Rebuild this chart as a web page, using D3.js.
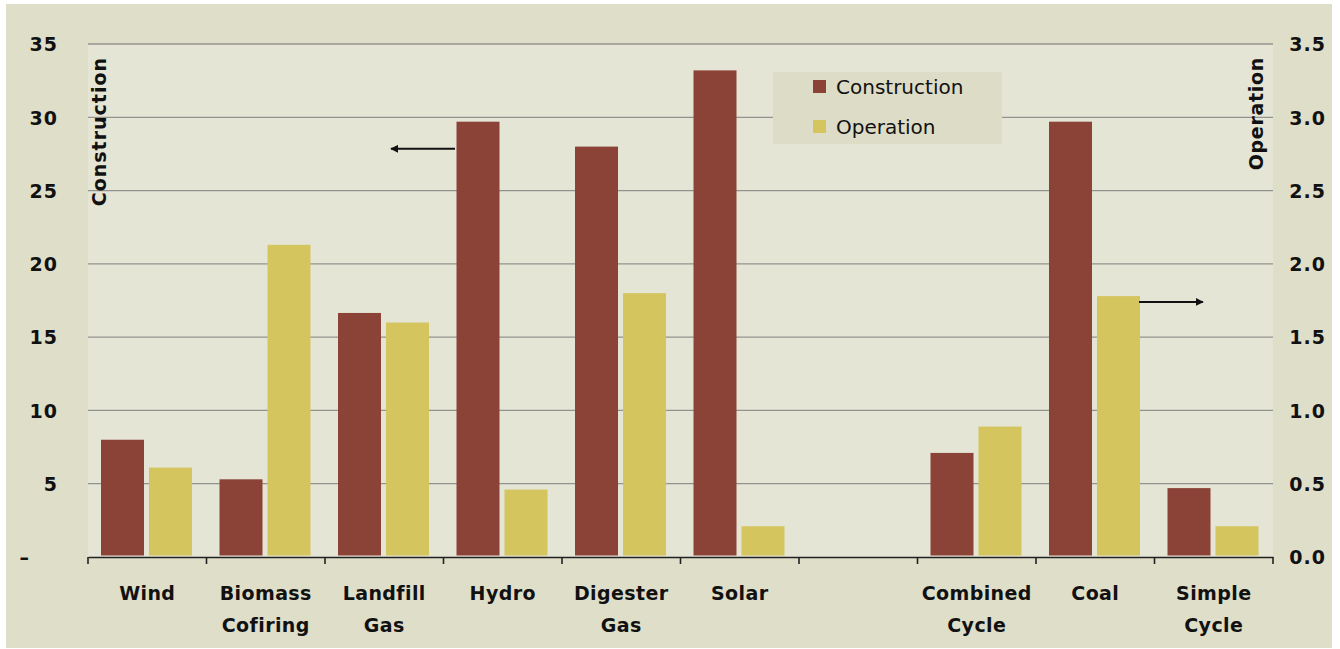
<!DOCTYPE html>
<html>
<head>
<meta charset="utf-8">
<script src="https://cdn.jsdelivr.net/npm/d3@7"></script>
<style>
  html, body { margin: 0; padding: 0; background: #ffffff; }
  svg { display: block; }
  text { font-family: "DejaVu Sans", sans-serif; fill: #111; }
</style>
</head>
<body>
<svg id="chart" width="1340" height="649"></svg>
<script>
// ---- data ----
const categories = ["Wind", "Biomass\nCofiring", "Landfill\nGas", "Hydro", "Digester\nGas", "Solar", " ", "Combined\nCycle", "Coal", "Simple\nCycle"];
const construction = [8.0, 5.3, 16.65, 29.7, 28.0, 33.2, null, 7.1, 29.7, 4.7];
const operation = [0.61, 2.13, 1.60, 0.46, 1.80, 0.21, null, 0.89, 1.78, 0.21];
const seriesNames = ["Construction", "Operation"];
const leftTicks = [0, 5, 10, 15, 20, 25, 30, 35];
const rightTicks = [0, 0.5, 1.0, 1.5, 2.0, 2.5, 3.0, 3.5];
const colors = { Construction: "#8b4337", Operation: "#d4c55f" };

// ---- layout ----
const svg = d3.select("#chart");
const plot = { left: 88, right: 1273, top: 44, bottom: 557 };

svg.append("rect").attr("x", 6).attr("y", 4).attr("width", 1326).attr("height", 644).attr("fill", "#dfdec8");
svg.append("rect").attr("x", plot.left).attr("y", plot.top)
  .attr("width", plot.right - plot.left).attr("height", plot.bottom - plot.top).attr("fill", "#e5e5d6");

const x = d3.scaleBand().domain(categories).range([plot.left, plot.right]).padding(0);
const xs = d3.scaleBand().domain(seriesNames).range([13, x.bandwidth() - 14.5]).paddingInner(5 / 48);
const yL = d3.scaleLinear().domain([0, 35]).range([plot.bottom, plot.top]);
const yR = d3.scaleLinear().domain([0, 3.5]).range([plot.bottom, plot.top]);

// gridlines
svg.append("g").selectAll("line").data(leftTicks.filter(d => d > 0)).join("line")
  .attr("x1", plot.left).attr("x2", plot.right)
  .attr("y1", d => yL(d)).attr("y2", d => yL(d))
  .attr("stroke", "#93938e").attr("stroke-width", 1.3);

// bars
const rows = categories.map((c, i) => ({ c, Construction: construction[i], Operation: operation[i] }));
const g = svg.append("g");
g.selectAll("rect.con").data(rows.filter(r => r.Construction != null)).join("rect")
  .attr("x", d => x(d.c) + xs("Construction")).attr("width", xs.bandwidth())
  .attr("y", d => yL(d.Construction)).attr("height", d => yL(0) - 1.5 - yL(d.Construction))
  .attr("fill", colors.Construction);
g.selectAll("rect.op").data(rows.filter(r => r.Operation != null)).join("rect")
  .attr("x", d => x(d.c) + xs("Operation")).attr("width", xs.bandwidth())
  .attr("y", d => yR(d.Operation)).attr("height", d => yR(0) - 1.5 - yR(d.Operation))
  .attr("fill", colors.Operation);

// x axis
const xAxis = d3.axisBottom(x).tickSize(0).tickFormat("");
const xg = svg.append("g").attr("transform", `translate(0,${plot.bottom})`).call(xAxis);
xg.select(".domain").attr("stroke", "#222").attr("stroke-width", 1.6);
const bounds = categories.map(c => x(c)).concat([plot.right]);
xg.selectAll("line.bt").data(bounds).join("line").attr("class", "bt")
  .attr("x1", d => d).attr("x2", d => d).attr("y1", 0).attr("y2", 7)
  .attr("stroke", "#222").attr("stroke-width", 1.6);
categories.forEach(c => {
  const lines = c.split("\n");
  const t = svg.append("text").attr("x", x(c) + x.bandwidth() / 2).attr("y", 600)
    .attr("text-anchor", "middle").attr("font-size", 19).attr("font-weight", "bold")
    .attr("letter-spacing", 0.4);
  lines.forEach((l, i) => {
    t.append("tspan").attr("x", x(c) + x.bandwidth() / 2).attr("dy", i === 0 ? 0 : 31.5).text(l.trim());
  });
});

// left axis
const lAxis = d3.axisLeft(yL).tickValues(leftTicks).tickSize(0).tickFormat(d => d === 0 ? "–" : d);
const lg = svg.append("g").attr("transform", `translate(58,0)`).call(lAxis);
lg.select(".domain").remove();
lg.selectAll("text").attr("x", d => d === 0 ? -28 : 0).attr("dy", "0.36em")
  .attr("font-size", 19).attr("font-weight", "bold").attr("font-family", "DejaVu Sans")
  .attr("letter-spacing", 1).attr("fill", "#111");

// right axis
const rAxis = d3.axisRight(yR).tickValues(rightTicks).tickSize(0).tickFormat(d3.format(".1f"));
const rg = svg.append("g").attr("transform", `translate(1326,0)`).call(rAxis);
rg.select(".domain").remove();
rg.selectAll("text").attr("x", 0).attr("text-anchor", "end").attr("dy", "0.36em")
  .attr("font-size", 19).attr("font-weight", "bold").attr("font-family", "DejaVu Sans")
  .attr("letter-spacing", 1).attr("fill", "#111");

// axis titles
svg.append("text").attr("transform", "translate(106,57) rotate(-90)")
  .attr("text-anchor", "end").attr("font-size", 19).attr("font-weight", "bold")
  .attr("letter-spacing", 1).text("Construction");
svg.append("text").attr("transform", "translate(1263,57) rotate(-90)")
  .attr("text-anchor", "end").attr("font-size", 19).attr("font-weight", "bold")
  .attr("letter-spacing", 0.7).text("Operation");

// legend
const lgd = svg.append("g").attr("transform", "translate(773,72)");
lgd.append("rect").attr("width", 229).attr("height", 72).attr("fill", "#dddcc6");
seriesNames.forEach((s, i) => {
  lgd.append("rect").attr("x", 40).attr("y", 8 + i * 40).attr("width", 13).attr("height", 13).attr("fill", colors[s]);
  lgd.append("text").attr("x", 63).attr("y", 22 + i * 40).attr("font-size", 20).text(s);
});

// arrows
const defs = svg.append("defs");
defs.append("marker").attr("id", "ah").attr("viewBox", "0 0 10 10").attr("refX", 9).attr("refY", 5)
  .attr("markerWidth", 4).attr("markerHeight", 4).attr("orient", "auto-start-reverse")
  .append("path").attr("d", "M0,0 L10,5 L0,10 Z").attr("fill", "#111");
const ayL = yL(27.85), ayR = yR(1.74);
svg.append("line").attr("x1", x("Landfill\nGas") + 130).attr("x2", x("Landfill\nGas") + 66)
  .attr("y1", ayL).attr("y2", ayL).attr("stroke", "#111").attr("stroke-width", 2).attr("marker-end", "url(#ah)");
svg.append("line").attr("x1", x("Coal") + 103).attr("x2", x("Coal") + 167)
  .attr("y1", ayR).attr("y2", ayR).attr("stroke", "#111").attr("stroke-width", 2).attr("marker-end", "url(#ah)");
</script>
</body>
</html>
